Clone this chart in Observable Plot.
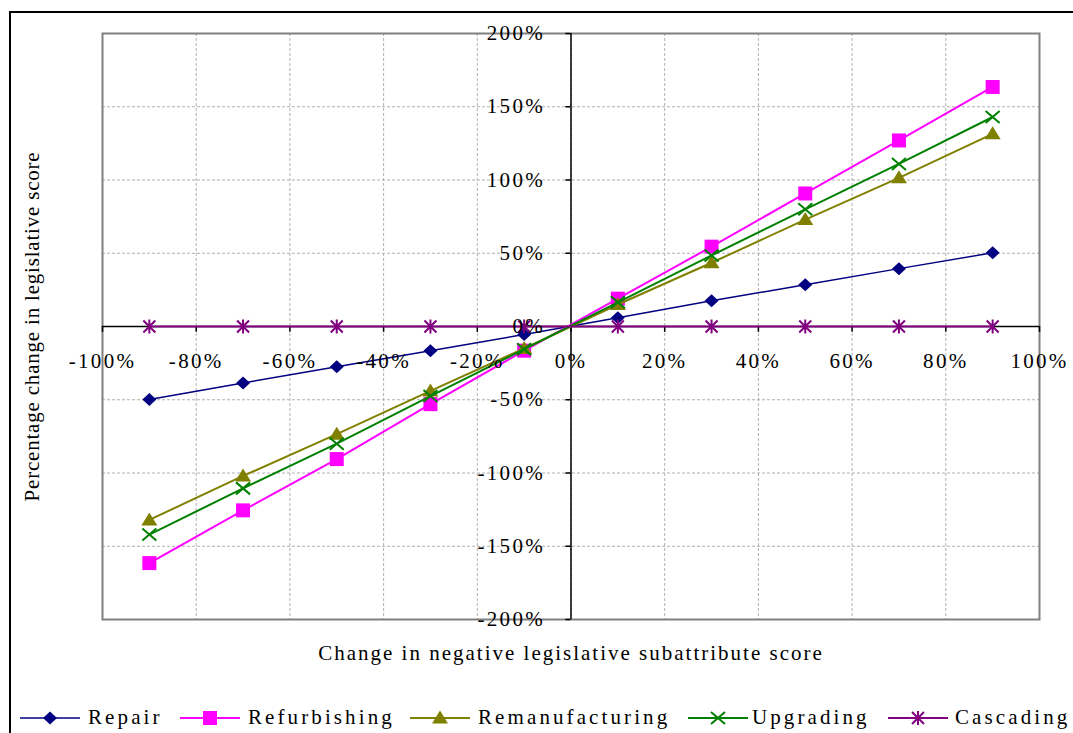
<!DOCTYPE html>
<html>
<head>
<meta charset="utf-8">
<script src="https://cdn.jsdelivr.net/npm/d3@7"></script>
<script src="https://cdn.jsdelivr.net/npm/@observablehq/plot@0.6"></script>
<style>
  html, body { margin: 0; padding: 0; background: #fff; }
  #wrap { position: relative; width: 1073px; height: 733px; overflow: hidden; background: #fff; }
  #border { position: absolute; left: 9px; top: 11px; width: 3000px; height: 3000px;
            border-left: 2px solid #000; border-top: 2px solid #000; }
  #chart { position: absolute; left: 0; top: 0; }
  #chart svg text { letter-spacing: 2.3px; }
  #legend { position: absolute; left: 0; top: 705px; width: 1073px; height: 28px;
            font-family: "Liberation Serif", serif; font-size: 21px; letter-spacing: 3.1px; white-space: nowrap; }
  #legend .sw { position: absolute; top: 4px; }
  #legend .lbl { position: absolute; top: 0; line-height: 24px; }
</style>
</head>
<body>
<div id="wrap">
  <div id="border"></div>
  <div id="chart"></div>
  <div id="legend"></div>
</div>
<script>
// ---- data ----
const xValues = [-90, -70, -50, -30, -10, 10, 30, 50, 70, 90];
const repair          = [-49.8, -38.5, -27.5, -16.5, -5.5, 6, 17.5, 28.5, 39.5, 50.3];
const refurbishing    = [-161.5, -125.5, -90.5, -53, -16.5, 19, 54.5, 90.8, 127, 163.5];
const remanufacturing = [-132, -102, -73.5, -44, -15, 15, 43.5, 73, 101.5, 131.5];
const upgrading       = [-142, -110.5, -80, -47.5, -15.5, 16.5, 48.5, 80, 111, 143];
const cascading       = [0, 0, 0, 0, 0, 0, 0, 0, 0, 0];
const seriesNames  = ["Repair", "Refurbishing", "Remanufacturing", "Upgrading", "Cascading"];
const seriesValues = [repair, refurbishing, remanufacturing, upgrading, cascading];
const seriesColors = ["#000080", "#FF00FF", "#808000", "#008000", "#800080"];
const xTicks = [-100, -80, -60, -40, -20, 0, 20, 40, 60, 80, 100];
const yTicks = [-200, -150, -100, -50, 0, 50, 100, 150, 200];
const xTitle = "Change in negative legislative subattribute score";
const yTitle = "Percentage change in legislative score";

// ---- marker symbols ----
const symDiamond = { draw(c) { c.moveTo(0, -6.5); c.lineTo(7, 0); c.lineTo(0, 6.5); c.lineTo(-7, 0); c.closePath(); } };
const symSquare  = { draw(c) { c.rect(-7, -7, 14, 14); } };
const symTriangle= { draw(c) { c.moveTo(0, -7.5); c.lineTo(8, 5.5); c.lineTo(-8, 5.5); c.closePath(); } };
const symTimes   = { draw(c) { c.moveTo(-7, -6); c.lineTo(7, 6); c.moveTo(-7, 6); c.lineTo(7, -6); } };
const symStar    = { draw(c) { c.moveTo(-6, -6); c.lineTo(6, 6); c.moveTo(-6, 6); c.lineTo(6, -6); c.moveTo(0, -7); c.lineTo(0, 7); } };
const symbols = [symDiamond, symSquare, symTriangle, symTimes, symStar];
const filled  = [true, true, true, false, false];
const widths  = [1.5, 2, 2, 2, 2];

const fmt = d => `${d}%`;

const seriesMarks = [];
seriesNames.forEach((name, k) => {
  const data = xValues.map((x, i) => ({ x, y: seriesValues[k][i] }));
  seriesMarks.push(Plot.line(data, { x: "x", y: "y", stroke: seriesColors[k], strokeWidth: widths[k] }));
  seriesMarks.push(Plot.dot(data, {
    x: "x", y: "y", symbol: symbols[k], r: 7,
    fill: filled[k] ? seriesColors[k] : "none",
    stroke: filled[k] ? "none" : seriesColors[k],
    strokeWidth: 2
  }));
});

const chart = Plot.plot({
  width: 1073,
  height: 680,
  marginLeft: 102,
  marginRight: 34,
  marginTop: 33,
  marginBottom: 61,
  x: { domain: [-100, 100], axis: null },
  y: { domain: [-200, 200], axis: null },
  style: { fontFamily: "'Liberation Serif', serif", fontSize: "21px", background: "transparent", overflow: "visible", color: "#000" },
  marks: [
    Plot.ruleX(xTicks, { x: d => d, stroke: "#b0b0b0", strokeDasharray: "3,2" }),
    Plot.ruleY(yTicks, { y: d => d, stroke: "#b0b0b0", strokeDasharray: "3,2" }),
    Plot.frame({ stroke: "#808080", strokeWidth: 2 }),
    Plot.ruleY([0], { stroke: "#000", strokeWidth: 1.5 }),
    Plot.ruleX([0], { stroke: "#000", strokeWidth: 1.5 }),
    Plot.ruleX(xTicks, { x: d => d, y1: () => 0, y2: () => -4, stroke: "#000", strokeWidth: 1.5 }),
    Plot.ruleY(yTicks, { y: d => d, x1: () => 0, x2: () => -1.1, stroke: "#000", strokeWidth: 1.5 }),
    ...seriesMarks,
    Plot.text(xTicks, { x: d => d, y: () => 0, text: fmt, dy: 35, fill: "#000", fontSize: 21 }),
    Plot.text(yTicks, { x: () => 0, y: d => d, text: fmt, textAnchor: "end", dx: -26, fill: "#000", fontSize: 21 }),
    Plot.text([xTitle], { frameAnchor: "bottom", dy: 40, fill: "#000", fontSize: 21 }),
    Plot.text([yTitle], { frameAnchor: "left", textAnchor: "middle", dx: -70, rotate: -90, fill: "#000", fontSize: 21 })
  ]
});
document.getElementById("chart").appendChild(chart);
chart.querySelectorAll("text").forEach(t => {
  if (t.textContent === yTitle) t.style.letterSpacing = "0.8px";
  if (t.textContent === xTitle) t.style.letterSpacing = "2px";
});

// ---- legend (HTML, below the SVG) ----
const legend = document.getElementById("legend");
const swatchLeft = [20, 180, 410, 688, 888];
const labelLeft  = [88, 248, 478, 752, 955];
seriesNames.forEach((name, k) => {
  const w = 60;
  const svg = d3.create("svg").attr("class", "sw").attr("width", w).attr("height", 18)
     .style("left", swatchLeft[k] + "px");
  svg.append("line").attr("x1", 0).attr("x2", w).attr("y1", 9).attr("y2", 9)
     .attr("stroke", seriesColors[k]).attr("stroke-width", widths[k]);
  svg.append("path").attr("transform", `translate(${w / 2},9)`)
     .attr("d", d3.symbol(symbols[k])())
     .attr("fill", filled[k] ? seriesColors[k] : "none")
     .attr("stroke", filled[k] ? "none" : seriesColors[k])
     .attr("stroke-width", 2);
  legend.appendChild(svg.node());
  const span = document.createElement("span");
  span.className = "lbl";
  span.style.left = labelLeft[k] + "px";
  span.textContent = name;
  legend.appendChild(span);
});
</script>
</body>
</html>
